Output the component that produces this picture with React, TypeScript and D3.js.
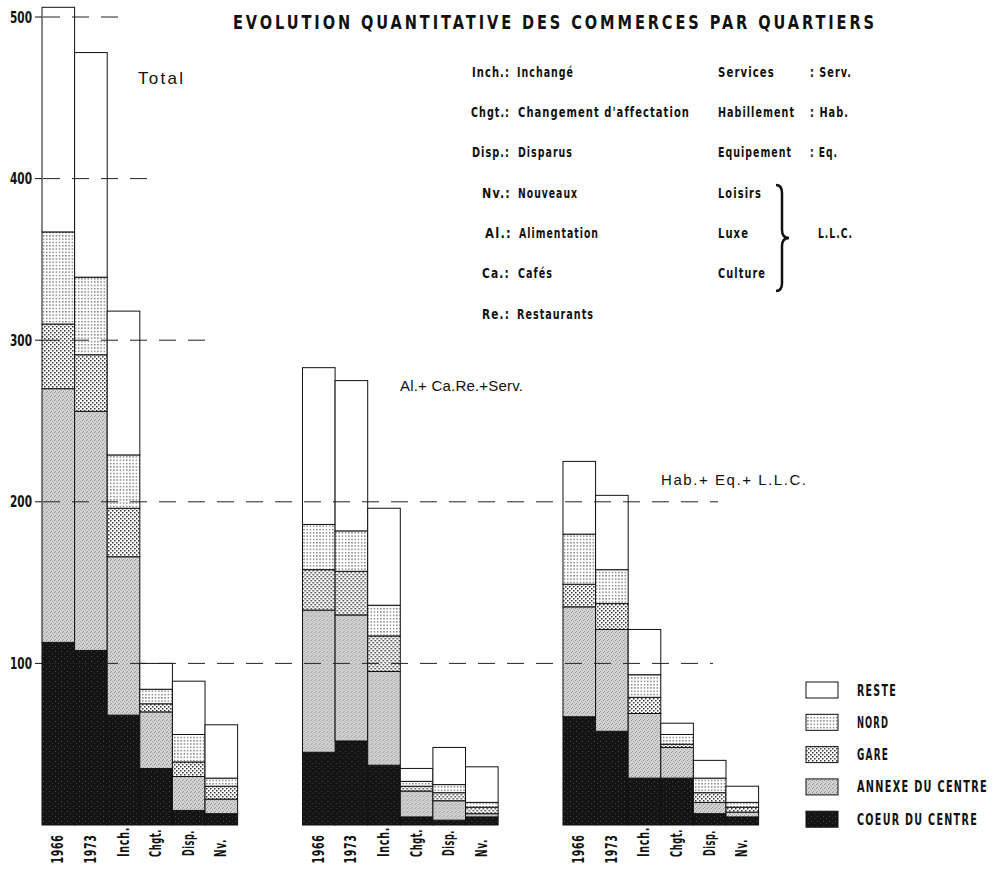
import React from "react";
import * as d3 from "d3";

// ---------- data ----------
const groups = ["Total", "AlCaReServ", "HabEqLLC"];
const groupLabels = ["Total", "Al.+ Ca.Re.+Serv.", "Hab.+ Eq.+ L.L.C."];
const categories = ["1966", "1973", "Inch.", "Chgt.", "Disp.", "Nv."];
const quartierKeys = ["coeur", "annexe", "gare", "nord", "reste"];
const legendLabels = ["RESTE", "NORD", "GARE", "ANNEXE DU CENTRE", "COEUR DU CENTRE"];
const legendKeys = ["reste", "nord", "gare", "annexe", "coeur"];

// rows: categories; columns: coeur, annexe, gare, nord, reste
const totalValues = [
  [113, 157, 40, 57, 139],
  [108, 148, 35, 48, 139],
  [68, 98, 30, 33, 89],
  [35, 35, 5, 9, 16],
  [9, 21, 9, 17, 33],
  [7, 9, 8, 5, 33],
];
const alimValues = [
  [45, 88, 25, 28, 97],
  [52, 78, 27, 25, 93],
  [37, 58, 22, 19, 60],
  [5, 16, 3, 3, 8],
  [3, 12, 5, 5, 23],
  [5, 2, 4, 3, 22],
];
const habValues = [
  [67, 68, 14, 31, 45],
  [58, 63, 16, 21, 46],
  [29, 40, 10, 14, 28],
  [29, 19, 2, 6, 7],
  [7, 7, 6, 9, 11],
  [5, 3, 3, 3, 10],
];
const groupValues = [totalValues, alimValues, habValues];

const yTicks = [100, 200, 300, 400, 500];
const title = "EVOLUTION  QUANTITATIVE  DES  COMMERCES  PAR  QUARTIERS";

const abbrevLeft = [
  ["Inch.:", "Inchangé"],
  ["Chgt.:", "Changement  d'affectation"],
  ["Disp.:", "Disparus"],
  ["Nv.:", "Nouveaux"],
  ["Al.:", "Alimentation"],
  ["Ca.:", "Cafés"],
  ["Re.:", "Restaurants"],
];
const abbrevRight = [
  ["Services", ": Serv."],
  ["Habillement", ": Hab."],
  ["Equipement", ": Eq."],
  ["Loisirs", ""],
  ["Luxe", ""],
  ["Culture", ""],
];
const llcLabel = "L.L.C.";

// ---------- layout / styling ----------
const W = 994;
const H = 873;
const COND = "'DejaVu Sans', sans-serif";
const SANS = "'Liberation Sans', Arial, Helvetica, sans-serif";

const fillFor: Record<string, string> = {
  reste: "#ffffff",
  nord: "url(#pNord)",
  gare: "url(#pGare)",
  annexe: "url(#pAnnexe)",
  coeur: "url(#pCoeur)",
};

const leftKeyX = [472, 471, 472, 482, 485, 482, 482];
const leftKeyW = [38, 39, 38, 29, 27, 28, 28];
const leftValX = [517, 518, 518, 518, 519, 518, 517];
const leftValW = [57, 172, 55, 60, 80, 35, 77];
const rightKeyW = [57, 77, 74, 44, 31, 48];
const rightValW = [42, 39, 28];
const rowY = [77, 117, 157, 198, 238, 278, 319];
const xLabelW = [29, 29, 30, 28, 26, 18];
const xLabelCY = [849, 849, 842, 843, 843, 848];
const legendW = [40, 32, 32, 131, 121];

// condensed bold text: horizontally squeezed so it fits exactly the measured width
function CT(props: {
  x: number;
  y: number;
  w: number;
  size: number;
  text: string;
  squeeze?: number;
  spacing?: number;
  rotate?: boolean;
  anchor?: "start" | "middle" | "end";
}) {
  const sq = props.squeeze ?? 0.72;
  const tr = props.rotate
    ? `translate(${props.x},${props.y}) rotate(-90) scale(${sq},1)`
    : `translate(${props.x},${props.y}) scale(${sq},1)`;
  return (
    <text
      transform={tr}
      textAnchor={props.anchor ?? "start"}
      fontFamily={COND}
      fontWeight="bold"
      fontSize={props.size}
      letterSpacing={props.spacing ?? 0}
      fill="#111"
      textLength={props.w / sq}
      lengthAdjust="spacingAndGlyphs"
    >
      {props.text}
    </text>
  );
}

export default function App() {
  const y = d3.scaleLinear().domain([0, 500]).range([825, 17]);
  const x0 = d3.scaleBand<string>().domain(groups).range([42, 758.6]).paddingInner(0.249).paddingOuter(0);
  const x1 = d3.scaleBand<string>().domain(categories).range([0, x0.bandwidth()]).padding(0);

  const stack = d3.stack<any>().keys(quartierKeys);

  const dashLines = [
    { v: 500, x1: 43, x2: 122 },
    { v: 400, x1: 43, x2: 159 },
    { v: 300, x1: 43, x2: 214 },
    { v: 200, x1: 43, x2: 718 },
    { v: 100, x1: 43, x2: 713 },
  ];

  const groupLabelPos = [
    { x: 138, y: 84, w: 45, size: 17 },
    { x: 400, y: 391, w: 123, size: 15 },
    { x: 661, y: 485, w: 145, size: 15 },
  ];

  return (
    <svg width={W} height={H} style={{ position: "absolute", left: 0, top: 0, background: "#fff" }}>
      <defs>
        <pattern id="pNord" width="3.2" height="3.3" patternUnits="userSpaceOnUse">
          <rect width="3.2" height="3.3" fill="#fff" />
          <rect x="1" y="1" width="1.1" height="1.1" fill="#222" />
        </pattern>
        <pattern id="pGare" width="4" height="4" patternUnits="userSpaceOnUse">
          <rect width="4" height="4" fill="#fff" />
          <rect x="0" y="0" width="1.5" height="1.5" fill="#333" />
          <rect x="2" y="2" width="1.5" height="1.5" fill="#333" />
        </pattern>
        <pattern id="pAnnexe" width="4" height="4" patternUnits="userSpaceOnUse">
          <rect width="4" height="4" fill="#d4d4d4" />
          <rect x="0" y="0" width="1" height="1" fill="#8c8c8c" />
          <rect x="2" y="1" width="1" height="1" fill="#a0a0a0" />
          <rect x="1" y="3" width="1" height="1" fill="#999" />
          <rect x="3" y="2" width="1" height="1" fill="#b0b0b0" />
        </pattern>
        <pattern id="pCoeur" width="6" height="5" patternUnits="userSpaceOnUse">
          <rect width="6" height="5" fill="#141414" />
          <rect x="1" y="1" width="1" height="1" fill="#4a4a4a" />
          <rect x="4" y="3" width="1" height="1" fill="#3a3a3a" />
        </pattern>
      </defs>

      {/* title */}
      <CT x={233} y={29} w={644} size={20} squeeze={0.66} spacing={4} text={title} />

      {/* bars */}
      {groups.map((g, gi) => {
        const rows = categories.map((c, ci) => {
          const o: any = { cat: c };
          quartierKeys.forEach((k, ki) => (o[k] = groupValues[gi][ci][ki]));
          return o;
        });
        const series = stack(rows);
        return (
          <g key={g} transform={`translate(${x0(g)},0)`}>
            {series.map((s) => (
              <g key={s.key}>
                {s.map((d, i) => (
                  <rect
                    key={i}
                    x={x1(d.data.cat)}
                    y={y(d[1])}
                    width={x1.bandwidth()}
                    height={y(d[0]) - y(d[1])}
                    fill={fillFor[s.key]}
                    stroke="#111"
                    strokeWidth={1}
                  />
                ))}
              </g>
            ))}
            {categories.map((c, ci) => (
              <CT
                key={c}
                x={(x1(c) as number) + x1.bandwidth() / 2 + 5}
                y={xLabelCY[ci]}
                w={xLabelW[ci]}
                size={15}
                squeeze={0.75}
                spacing={1}
                rotate
                anchor="middle"
                text={c}
              />
            ))}
          </g>
        );
      })}

      {/* dashed reference lines */}
      {dashLines.map((d) => (
        <line key={d.v} x1={d.x1} x2={d.x2} y1={y(d.v)} y2={y(d.v)} stroke="#222" strokeWidth={1} strokeDasharray="17 12" />
      ))}

      {/* y axis ticks + labels */}
      {yTicks.map((t) => (
        <g key={t}>
          <line x1={35} x2={42} y1={y(t)} y2={y(t)} stroke="#111" strokeWidth={1} />
          <CT x={10} y={y(t) + 5.5} w={22} size={15} squeeze={0.75} text={String(t)} />
        </g>
      ))}

      {/* group labels */}
      {groupLabels.map((l, i) => (
        <text
          key={l}
          x={groupLabelPos[i].x}
          y={groupLabelPos[i].y}
          fontFamily={SANS}
          fontSize={groupLabelPos[i].size}
          textLength={groupLabelPos[i].w}
          lengthAdjust="spacing"
          fill="#111"
        >
          {l}
        </text>
      ))}

      {/* abbreviation table */}
      {abbrevLeft.map((r, i) => (
        <g key={r[0]}>
          <CT x={leftKeyX[i]} y={rowY[i]} w={leftKeyW[i]} size={14} squeeze={0.72} spacing={1.5} text={r[0]} />
          <CT x={leftValX[i]} y={rowY[i]} w={leftValW[i]} size={14} squeeze={0.72} spacing={1.5} text={r[1]} />
        </g>
      ))}
      {abbrevRight.map((r, i) => (
        <g key={r[0]}>
          <CT x={718} y={rowY[i]} w={rightKeyW[i]} size={14} squeeze={0.72} spacing={1.5} text={r[0]} />
          {r[1] && <CT x={810} y={rowY[i]} w={rightValW[i]} size={14} squeeze={0.72} spacing={1.5} text={r[1]} />}
        </g>
      ))}
      <path
        d="M776,185 Q782,185 782,193 L782,230 Q782,238 789,238 Q782,238 782,246 L782,283 Q782,291 776,291"
        fill="none"
        stroke="#111"
        strokeWidth={2.5}
      />
      <CT x={818} y={rowY[4]} w={35} size={14} squeeze={0.72} spacing={1.5} text={llcLabel} />

      {/* legend */}
      {legendKeys.map((k, i) => {
        const top = 682 + i * 32.3;
        return (
          <g key={k}>
            <rect x={806} y={top} width={32} height={16} fill={fillFor[k]} stroke="#111" strokeWidth={1} />
            <CT x={857} y={top + 13.5} w={legendW[i]} size={15} squeeze={0.6} spacing={2} text={legendLabels[i]} />
          </g>
        );
      })}
    </svg>
  );
}
